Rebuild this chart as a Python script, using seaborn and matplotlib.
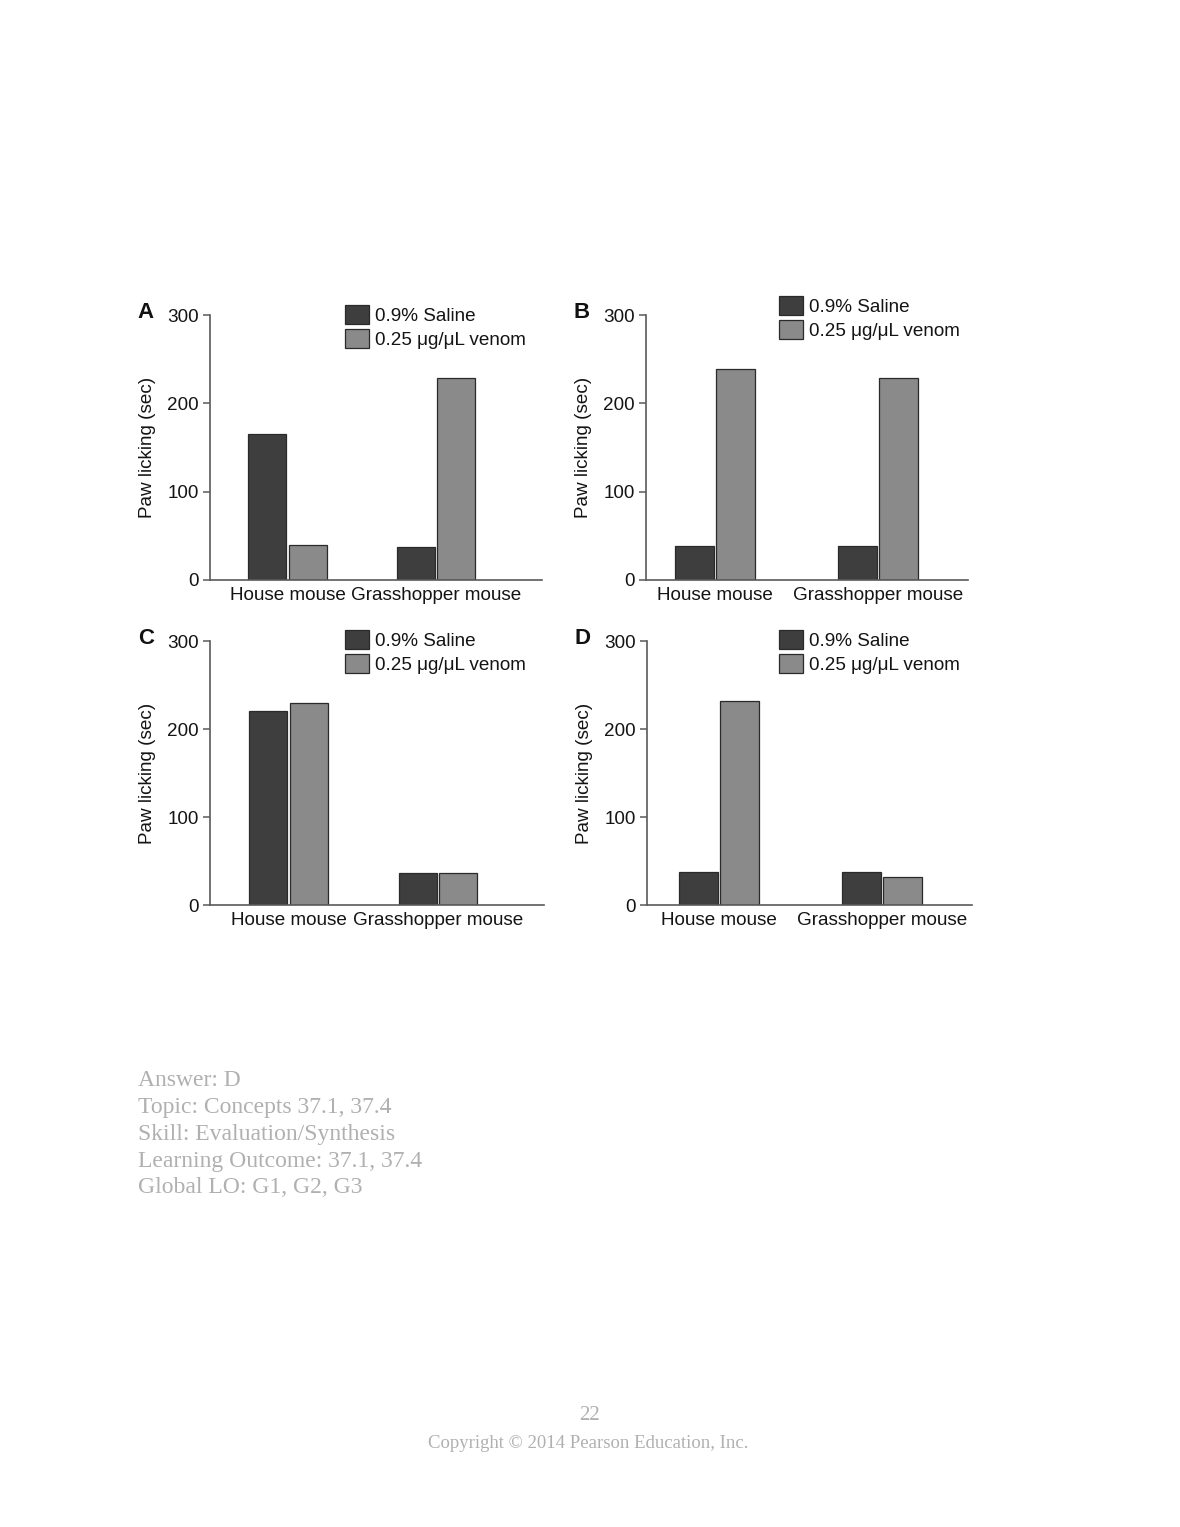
import numpy as np
import pandas as pd
import matplotlib
matplotlib.use("Agg")
import matplotlib.pyplot as plt
import seaborn as sns
from matplotlib.patches import Patch

# ---------------- data ----------------
categories = ["House mouse", "Grasshopper mouse"]
treatments = ["0.9% Saline", "0.25 μg/μL venom"]
panel_labels = ["A", "B", "C", "D"]
saline_A = [165, 37]
venom_A = [40, 229]
saline_B = [38, 38]
venom_B = [239, 229]
saline_C = [220, 36]
venom_C = [229, 36]
saline_D = [38, 38]
venom_D = [232, 32]
yticks = [0, 100, 200, 300]
ylabel = "Paw licking (sec)"
footer_lines = ["Answer: D", "Topic: Concepts 37.1, 37.4", "Skill: Evaluation/Synthesis",
                "Learning Outcome: 37.1, 37.4", "Global LO: G1, G2, G3"]
page_number = "22"
copyright_text = "Copyright © 2014 Pearson Education, Inc."

saline = [saline_A, saline_B, saline_C, saline_D]
venom = [venom_A, venom_B, venom_C, venom_D]

# ---------------- style ----------------
sns.set_theme(style="white")
plt.rcParams["font.family"] = ["Liberation Sans", "DejaVu Sans"]

W, H = 1180, 1527
fig = plt.figure(figsize=(W / 100, H / 100), dpi=100)
fig.patch.set_facecolor("white")

palette = {treatments[0]: "#3e3e3e", treatments[1]: "#8a8a8a"}
spine_col = "#5a5a5a"
txt_col = "#141414"
fs = 13.6

# pixel layout: (x0, x1, ytop, ybottom, xlim_left, xlim_right, group width, legend x, legend y)
layout = [
    (210, 542, 315, 580, -0.522, 1.714, 0.545, 345, 305),
    (646, 968, 315, 580, -0.423, 1.552, 0.503, 779, 296),
    (210, 544, 641, 905, -0.525, 1.709, 0.542, 345, 630),
    (647, 972, 641, 905, -0.440, 1.550, 0.503, 779, 630),
]

for i, (x0, x1, yt, yb, xl, xr, gw, lx, ly) in enumerate(layout):
    ax = fig.add_axes([x0 / W, 1 - yb / H, (x1 - x0) / W, (yb - yt) / H])
    df = pd.DataFrame({
        "Mouse": categories * 2,
        "Treatment": [treatments[0]] * 2 + [treatments[1]] * 2,
        "Value": list(saline[i]) + list(venom[i]),
    })
    sns.barplot(data=df, x="Mouse", y="Value", hue="Treatment", order=categories,
                hue_order=treatments, palette=palette, width=gw, gap=0.06,
                edgecolor="#2a2a2a", linewidth=0.9, errorbar=None, legend=False, ax=ax)
    ax.set_xlim(xl, xr)
    ax.set_ylim(0, 300)
    ax.set_yticks(yticks)
    ax.set_yticklabels([str(t) for t in yticks], fontsize=fs, color=txt_col)
    ax.set_xticklabels(categories, fontsize=fs, color=txt_col)
    ax.set_xlabel("")
    ax.set_ylabel(ylabel, fontsize=fs, color=txt_col, labelpad=8)
    for s in ["top", "right"]:
        ax.spines[s].set_visible(False)
    for s in ["left", "bottom"]:
        ax.spines[s].set_color(spine_col)
        ax.spines[s].set_linewidth(1.2)
    ax.tick_params(axis="y", length=5, width=1.1, color=spine_col, pad=3, direction="out", left=True)
    ax.tick_params(axis="x", length=0, pad=5)
    ax.set_facecolor("white")

    # panel letter
    fig.text((x0 - 64) / W, 1 - (yt - 2) / H, panel_labels[i], fontsize=16, fontweight="bold",
             ha="center", va="center", color="#111111")

    handles = [Patch(facecolor=palette[t], edgecolor="#2a2a2a", linewidth=0.9) for t in treatments]
    fig.legend(handles, treatments, loc="upper left", bbox_to_anchor=(lx / W, 1 - ly / H),
               frameon=False, fontsize=fs, borderpad=0, borderaxespad=0,
               handlelength=1.25, handleheight=1.15, handletextpad=0.33, labelspacing=0.22,
               labelcolor=txt_col)

# blurred page text (rendered light)
for k, line in enumerate(footer_lines):
    fig.text(138 / W, 1 - (1081 + 26.7 * k) / H, line, fontsize=17, family="Liberation Serif",
             color="#b0b0b0", ha="left", va="center")
fig.text(590 / W, 1 - 1416 / H, page_number, fontsize=15, family="Liberation Serif",
         color="#b0b0b0", ha="center", va="center")
fig.text(588 / W, 1 - 1444 / H, copyright_text, fontsize=13.5, family="Liberation Serif",
         color="#b0b0b0", ha="center", va="center")

fig.savefig("out.png", dpi=100, facecolor="white")
